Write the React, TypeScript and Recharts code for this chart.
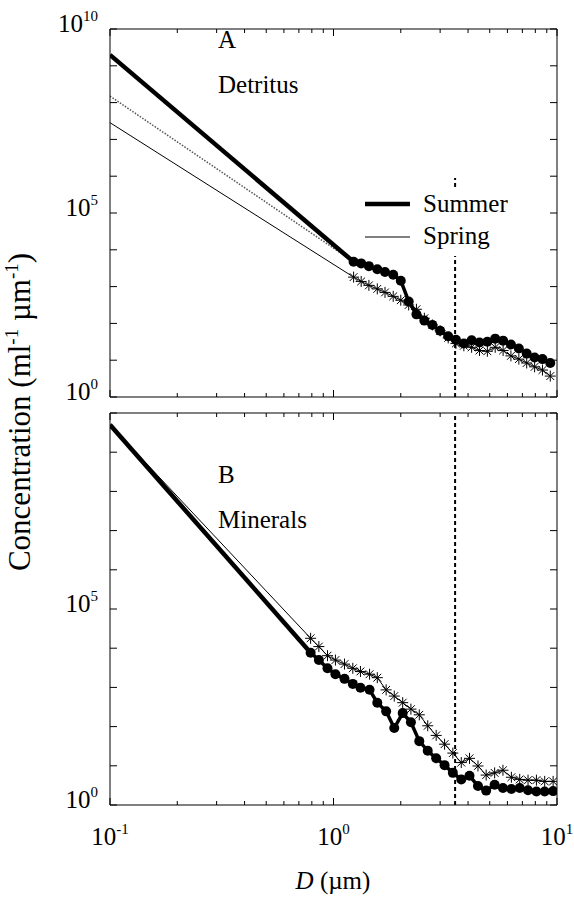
import React from 'react';
import { LineChart, Line, XAxis, YAxis, ReferenceLine } from 'recharts';

const FONT = '"Liberation Serif", "Times New Roman", serif';

// size bins (µm) and concentrations (ml^-1 µm^-1)
const dA = [1.23, 1.33, 1.44, 1.57, 1.7, 1.85, 2.0, 2.17, 2.35, 2.55, 2.77, 3.0, 3.26, 3.53, 3.83, 4.15, 4.5, 4.88, 5.29, 5.74, 6.22, 6.75, 7.32, 7.94, 8.61, 9.33];
const summerA = [4710, 4270, 3600, 2950, 2490, 2090, 1450, 395, 176, 119, 90.8, 62.8, 44.6, 35.7, 28.6, 34.8, 30.1, 31.6, 38.5, 34.0, 26.6, 20.8, 15.1, 11.9, 10.7, 8.4];
const springA = [1810, 1380, 1080, 867, 695, 543, 426, 317, 242, 138, 90.8, 62.8, 40.4, 28.6, 24.7, 22.4, 18.4, 17.5, 22.4, 18.4, 13.1, 10.7, 8.4, 6.6, 5.4, 3.7];

const dB = [0.79, 0.86, 0.94, 1.02, 1.12, 1.22, 1.32, 1.45, 1.57, 1.72, 1.87, 2.04, 2.22, 2.42, 2.64, 2.88, 3.14, 3.42, 3.73, 4.06, 4.43, 4.82, 5.26, 5.73, 6.25, 6.81, 7.42, 8.09, 8.81, 9.61];
const summerB = [7690, 4980, 3070, 2170, 1650, 1230, 979, 869, 408, 245, 92, 221, 129, 42.6, 24.1, 15.5, 10.4, 6.6, 4.5, 5.6, 3.05, 2.33, 3.3, 2.72, 2.57, 2.72, 2.38, 2.21, 2.21, 2.26];
const springB = [17900, 11000, 6440, 4980, 3930, 3070, 2550, 2170, 1770, 865, 601, 408, 279, 200, 105, 59.6, 35.6, 21.1, 12.1, 15.5, 9.9, 5.8, 6.6, 7.7, 5.1, 4.5, 4.3, 4.3, 4.0, 4.0];

// power-law extrapolations below the counter range [D, C]
const fitSummerA = [[0.1, 1.98e9], [1.23, 4710]];
const fitOtherA = [[0.1, 1.5e8], [1.23, 4710]];
const fitSpringA = [[0.1, 2.85e7], [1.23, 1810]];
const fitSummerB = [[0.1, 5e9], [0.79, 7690]];
const fitSpringB = [[0.1, 5e9], [0.79, 17900]];

const cutoffD = 3.5;

const xTicks = [0.1, 0.2, 0.3, 0.4, 0.5, 0.6, 0.7, 0.8, 0.9, 1, 2, 3, 4, 5, 6, 7, 8, 9, 10];
const xMajor = [0.1, 1, 10];
const yTicks = [1, 10, 100, 1e3, 1e4, 1e5, 1e6, 1e7, 1e8, 1e9, 1e10];
const yLabelsA = [1, 1e5, 1e10];
const yLabelsB = [1, 1e5];

const rows = (d: number[], c: number[]) => d.map((v, i) => ({ d: v, c: c[i] }));
const pairs = (p: number[][]) => p.map(([d, c]) => ({ d, c }));

const Asterisk = (props: any) => {
  const { cx, cy } = props;
  if (cx == null || cy == null) return <g />;
  const r = 5.5;
  const q = r * 0.707;
  return (
    <g stroke="#000" strokeWidth={1}>
      <line x1={cx - r} y1={cy} x2={cx + r} y2={cy} />
      <line x1={cx} y1={cy - r} x2={cx} y2={cy + r} />
      <line x1={cx - q} y1={cy - q} x2={cx + q} y2={cy + q} />
      <line x1={cx - q} y1={cy + q} x2={cx + q} y2={cy - q} />
    </g>
  );
};

const XTick = (props: any) => {
  const { x, y, payload, side, labels } = props;
  const v = payload.value;
  const major = xMajor.includes(v);
  const len = major ? 7 : 4;
  const dir = side === 'bottom' ? -1 : 1;
  const exp = Math.round(Math.log10(v));
  return (
    <g>
      <line x1={x} y1={y} x2={x} y2={y + dir * len} stroke="#000" strokeWidth={1} />
      {labels && major && (
        <text x={x} y={y + 40} textAnchor="middle" fontFamily={FONT} fontSize={25} fill="#000">
          10<tspan dy={-11} fontSize={15}>{exp}</tspan>
        </text>
      )}
    </g>
  );
};

const YTick = (props: any) => {
  const { x, y, payload, side, labels } = props;
  const v = payload.value;
  const dir = side === 'left' ? 1 : -1;
  const exp = Math.round(Math.log10(v));
  return (
    <g>
      <line x1={x} y1={y} x2={x + dir * 7} y2={y} stroke="#000" strokeWidth={1} />
      {side === 'left' && labels.includes(v) && (
        <text x={x - 12} y={y + 3} textAnchor="end" fontFamily={FONT} fontSize={25} fill="#000">
          10<tspan dy={-11} fontSize={15}>{exp}</tspan>
        </text>
      )}
    </g>
  );
};

function Panel({ yLabels, summer, spring, fits, cutTop, xLabels }: any) {
  const axis = { stroke: '#000', strokeWidth: 1 };
  return [
    <XAxis key="xb" xAxisId="x" dataKey="d" type="number" scale="log" domain={[0.1, 10]} ticks={xTicks}
      allowDataOverflow height={1} tickSize={0} tickMargin={0} axisLine={axis} tickLine={false}
      tick={<XTick side="bottom" labels={xLabels} />} interval={0} />,
    <XAxis key="xt" xAxisId="xt" orientation="top" dataKey="d" type="number" scale="log" domain={[0.1, 10]} ticks={xTicks}
      allowDataOverflow height={1} tickSize={0} tickMargin={0} axisLine={axis} tickLine={false}
      tick={<XTick side="top" />} interval={0} />,
    <YAxis key="yl" yAxisId="y" dataKey="c" type="number" scale="log" domain={[1, 1e10]} ticks={yTicks}
      allowDataOverflow width={1} tickSize={0} tickMargin={0} axisLine={axis} tickLine={false}
      tick={<YTick side="left" labels={yLabels} />} interval={0} />,
    <YAxis key="yr" yAxisId="yr" orientation="right" dataKey="c" type="number" scale="log" domain={[1, 1e10]} ticks={yTicks}
      allowDataOverflow width={1} tickSize={0} tickMargin={0} axisLine={axis} tickLine={false}
      tick={<YTick side="right" labels={yLabels} />} interval={0} />,
    <Line key="ghost" xAxisId="xt" yAxisId="yr" data={summer} dataKey="c" stroke="none" dot={false} isAnimationActive={false} />,
    <ReferenceLine key="cut" xAxisId="x" yAxisId="y" segment={[{ x: cutoffD, y: 1 }, { x: cutoffD, y: cutTop }]}
      stroke="#000" strokeWidth={2} strokeDasharray="4 3" />,
    ...fits,
    <Line key="spring" xAxisId="x" yAxisId="y" data={spring} dataKey="c" stroke="#000" strokeWidth={1}
      dot={<Asterisk />} isAnimationActive={false} />,
    <Line key="summer" xAxisId="x" yAxisId="y" data={summer} dataKey="c" stroke="#000" strokeWidth={3.5}
      dot={{ r: 5, fill: '#000', stroke: '#000', strokeWidth: 0 }} isAnimationActive={false} />,
  ];
}

function fitLine(name: string, data: any[], width: number, dash?: string, color = '#000') {
  return (
    <Line key={name} xAxisId="x" yAxisId="y" data={data} dataKey="c" stroke={color}
      strokeWidth={width} strokeDasharray={dash} dot={false} isAnimationActive={false} />
  );
}

export default function App() {
  const text = { fontFamily: FONT, fill: '#000' };
  return (
    <div style={{ position: 'absolute', left: 0, top: 0, width: 574, height: 911, background: '#fff' }}>
      <div style={{ position: 'absolute', left: 0, top: 0 }}>
        <LineChart width={574} height={405} margin={{ top: 28, right: 16, bottom: 7, left: 109 }}>
          {Panel({
            yLabels: yLabelsA, summer: rows(dA, summerA), spring: rows(dA, springA), cutTop: 9e5,
            xLabels: false,
            fits: [
              fitLine('fs', pairs(fitSpringA), 1),
              fitLine('fo', pairs(fitOtherA), 1.5, '1.5 1.5', '#555'),
              fitLine('fm', pairs(fitSummerA), 4.5),
            ],
          })}
        </LineChart>
      </div>
      <div style={{ position: 'absolute', left: 0, top: 405 }}>
        <LineChart width={574} height={506} margin={{ top: 7, right: 16, bottom: 105, left: 109 }}>
          {Panel({
            yLabels: yLabelsB, summer: rows(dB, summerB), spring: rows(dB, springB), cutTop: 1e10,
            xLabels: true,
            fits: [
              fitLine('fs', pairs(fitSpringB), 1),
              fitLine('fm', pairs(fitSummerB), 4.5),
            ],
          })}
        </LineChart>
      </div>
      <svg width={574} height={911} style={{ position: 'absolute', left: 0, top: 0, pointerEvents: 'none' }}>
        <rect x={356} y={188} width={165} height={68} fill="#fff" />
        <line x1={365} y1={204} x2={410} y2={204} stroke="#000" strokeWidth={4.5} />
        <line x1={365} y1={237} x2={410} y2={237} stroke="#000" strokeWidth={1} />
        <text x={423} y={212} fontSize={25} {...text}>Summer</text>
        <text x={423} y={244} fontSize={25} {...text}>Spring</text>

        <text x={218} y={48} fontSize={25} {...text}>A</text>
        <text x={218} y={93} fontSize={25} {...text}>Detritus</text>
        <text x={218} y={483} fontSize={25} {...text}>B</text>
        <text x={218} y={528} fontSize={25} {...text}>Minerals</text>

        <text transform="translate(30,412) rotate(-90)" textAnchor="middle" fontSize={31} {...text}>
          Concentration (ml<tspan dy={-12} fontSize={19}>-1</tspan>
          <tspan dy={12}> µm</tspan><tspan dy={-12} fontSize={19}>-1</tspan><tspan dy={12}>)</tspan>
        </text>
        <text x={333} y={889} textAnchor="middle" fontSize={25} {...text}>
          <tspan fontStyle="italic">D</tspan> (µm)
        </text>
      </svg>
    </div>
  );
}
